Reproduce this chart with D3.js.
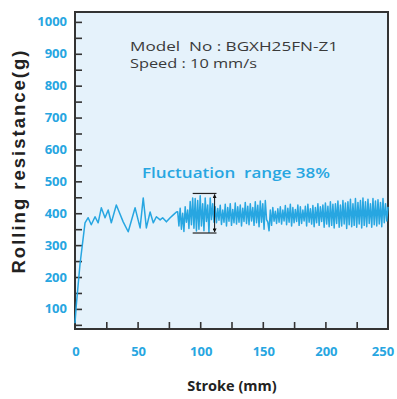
<!DOCTYPE html>
<html>
<head>
<meta charset="utf-8">
<script src="https://cdn.jsdelivr.net/npm/d3@7"></script>
<style>
    body { margin: 0; background: #fff; }
    svg { display: block; }
    text { white-space: pre; }
</style>
</head>
<body>
<div id="chart"></div>
<script>
// start of the run, read point by point
const rampStroke = [0, 1, 4, 8, 10.5, 13, 16, 18.5, 21, 24, 26.5, 29, 33, 38.5, 42.5, 48, 52, 54.5, 57, 60, 62.5, 65, 68, 70, 73, 76, 78.5, 81];
const rampResistance = [55, 110, 240, 370, 386, 364, 389, 370, 417, 386, 410, 370, 426, 373, 342, 417, 354, 448, 354, 404, 370, 389, 379, 386, 373, 386, 395, 404];

// dense part, one value per mm from 82 mm to 250 mm
const denseStart = 82;
const denseResistance = [
    405, 360, 416, 350, 400, 343, 420, 372, 410, 352,
    437, 364, 448, 353, 446, 344, 440, 350, 455, 360,
    430, 345, 448, 374, 426, 340, 448, 380, 430, 372,
    420, 370, 415, 378, 425, 365, 410, 372, 428, 360,
    418, 375, 430, 362, 412, 370, 432, 366, 420, 372,
    426, 360, 416, 374, 434, 368, 422, 364, 430, 376,
    418, 362, 436, 370, 425, 358, 438, 372, 430, 350,
    440, 380, 372, 345, 410, 362, 418, 375, 406, 368,
    414, 372, 420, 366, 410, 376, 424, 364, 416, 372,
    428, 360, 418, 370, 412, 374, 426, 362, 420, 368,
    410, 376, 422, 360, 428, 372, 414, 366, 424, 358,
    418, 370, 430, 362, 420, 374, 426, 356, 432, 366,
    422, 358, 436, 362, 428, 354, 430, 368, 438, 356,
    426, 360, 440, 366, 432, 352, 436, 364, 444, 358,
    430, 362, 446, 356, 434, 366, 440, 354, 448, 362,
    436, 358, 444, 368, 430, 356, 446, 364, 438, 360,
    442, 366, 434, 358, 446, 370, 430, 376, 420
];

const xTickLabels = [0, 50, 100, 150, 200, 250];
const yTickLabels = [100, 200, 300, 400, 500, 600, 700, 800, 900, 1000];
const bracketStroke = [94, 113];
const bracketRange = [338, 462];

const infoLines = ['Model  No : BGXH25FN-Z1', 'Speed : 10 mm/s'];
const infoWidths = [208, 127];
const rangeLabel = 'Fluctuation  range 38%';

const width = 397, height = 399;
const plot = { left: 75, right: 388, top: 12, bottom: 329 };
const blue = '#27a6e1';
const dark = '#333';

let points = rampStroke.map((s, i) => [s, rampResistance[i]]);
denseResistance.forEach((v, i) => points.push([denseStart + i, v]));

const svg = d3.select('#chart')
    .append('svg')
    .attr('width', width)
    .attr('height', height);

const x = d3.scaleLinear().domain([0, 250]).range([plot.left, plot.right]);
const y = d3.scaleLinear().domain([37, 1031]).range([plot.bottom, plot.top]);

svg.append('rect')
    .attr('x', plot.left)
    .attr('y', plot.top)
    .attr('width', plot.right - plot.left)
    .attr('height', plot.bottom - plot.top)
    .attr('fill', '#e5f2fb');

// ticks point inward
const yAxis = d3.axisRight(y)
    .tickValues(d3.range(50, 1001, 50))
    .tickSize(7)
    .tickFormat('');
svg.append('g')
    .attr('transform', `translate(${plot.left},0)`)
    .call(yAxis)
    .call(g => g.select('.domain').remove())
    .selectAll('line')
    .attr('stroke', dark)
    .attr('stroke-width', 1.6);

const xAxis = d3.axisTop(x)
    .tickValues(d3.range(25, 250, 25))
    .tickSize(7)
    .tickFormat('');
svg.append('g')
    .attr('transform', `translate(0,${plot.bottom})`)
    .call(xAxis)
    .call(g => g.select('.domain').remove())
    .selectAll('line')
    .attr('stroke', dark)
    .attr('stroke-width', 1.6);

svg.selectAll('.ylabel')
    .data(yTickLabels)
    .enter()
    .append('text')
    .attr('class', 'ylabel')
    .attr('x', plot.left - 8)
    .attr('y', d => y(d))
    .attr('dy', '0.35em')
    .attr('text-anchor', 'end')
    .attr('font-family', 'Open Sans')
    .attr('font-weight', 'bold')
    .attr('font-size', 13)
    .attr('fill', blue)
    .text(d => d);

svg.selectAll('.xlabel')
    .data(xTickLabels)
    .enter()
    .append('text')
    .attr('class', 'xlabel')
    .attr('x', d => Math.min(x(d) + 1, width - 14))
    .attr('y', 351)
    .attr('dy', '0.35em')
    .attr('text-anchor', 'middle')
    .attr('font-family', 'Open Sans')
    .attr('font-weight', 'bold')
    .attr('font-size', 13)
    .attr('fill', blue)
    .text(d => d);

// frame
svg.append('rect')
    .attr('x', plot.left)
    .attr('y', plot.top)
    .attr('width', plot.right - plot.left)
    .attr('height', plot.bottom - plot.top)
    .attr('fill', 'none')
    .attr('stroke', dark)
    .attr('stroke-width', 2);

const line = d3.line()
    .x(d => x(d[0]))
    .y(d => y(d[1]));

svg.append('path')
    .datum(points)
    .attr('d', line)
    .attr('fill', 'none')
    .attr('stroke', blue)
    .attr('stroke-width', 1.5)
    .attr('stroke-linejoin', 'round');

// fluctuation bracket
svg.append('defs').append('marker')
    .attr('id', 'arrow')
    .attr('viewBox', '0 0 10 10')
    .attr('refX', 9)
    .attr('refY', 5)
    .attr('markerWidth', 4)
    .attr('markerHeight', 4)
    .attr('orient', 'auto-start-reverse')
    .append('path')
    .attr('d', 'M0,0L10,5L0,10Z')
    .attr('fill', '#111');

bracketRange.forEach(v => {
    svg.append('line')
        .attr('x1', x(bracketStroke[0]))
        .attr('x2', x(bracketStroke[1]))
        .attr('y1', y(v))
        .attr('y2', y(v))
        .attr('stroke', '#222')
        .attr('stroke-width', 1.2);
});
svg.append('line')
    .attr('x1', x(bracketStroke[1] - 1.5))
    .attr('x2', x(bracketStroke[1] - 1.5))
    .attr('y1', y(bracketRange[0]) - 1)
    .attr('y2', y(bracketRange[1]) + 1)
    .attr('stroke', '#111')
    .attr('stroke-width', 1)
    .attr('marker-start', 'url(#arrow)')
    .attr('marker-end', 'url(#arrow)');

svg.selectAll('.info')
    .data(infoLines)
    .enter()
    .append('text')
    .attr('class', 'info')
    .attr('x', 130)
    .attr('y', (d, i) => 51 + i * 17)
    .attr('font-family', 'Open Sans')
    .attr('font-size', 12.5)
    .attr('textLength', (d, i) => infoWidths[i])
    .attr('lengthAdjust', 'spacingAndGlyphs')
    .attr('fill', '#3a3a3a')
    .text(d => d);

svg.append('text')
    .attr('x', 142)
    .attr('y', 178)
    .attr('font-family', 'Open Sans')
    .attr('font-weight', 600)
    .attr('font-size', 15)
    .attr('textLength', 188)
    .attr('lengthAdjust', 'spacingAndGlyphs')
    .attr('fill', blue)
    .text(rangeLabel);

svg.append('text')
    .attr('transform', `translate(25,162) rotate(-90)`)
    .attr('text-anchor', 'middle')
    .attr('font-family', 'Liberation Sans')
    .attr('font-weight', 'bold')
    .attr('font-size', 18.5)
    .attr('textLength', 223)
    .attr('lengthAdjust', 'spacing')
    .attr('fill', '#222')
    .text('Rolling resistance(g)');

svg.append('text')
    .attr('x', 232)
    .attr('y', 391)
    .attr('text-anchor', 'middle')
    .attr('font-family', 'Open Sans')
    .attr('font-weight', 'bold')
    .attr('font-size', 14.5)
    .attr('fill', '#222')
    .text('Stroke (mm)');
</script>
</body>
</html>
